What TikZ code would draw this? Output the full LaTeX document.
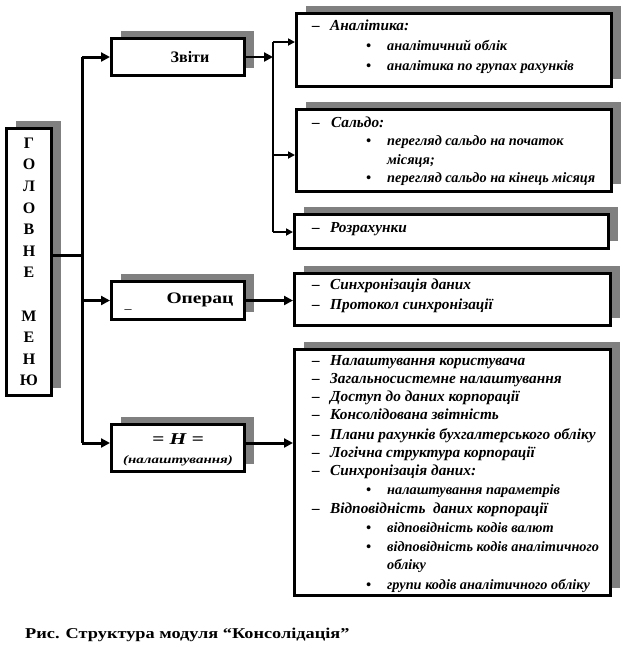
\documentclass[tikz,border=0pt]{standalone}
\usepackage{fontspec}
\setmainfont{Liberation Serif}
\newfontfamily\widefont[FakeStretch=1.22]{Liberation Serif}
\newfontfamily\widerfont[FakeStretch=1.3]{Liberation Serif}
\usetikzlibrary{shadows,arrows.meta}
\definecolor{shgray}{RGB}{128,128,128}
\begin{document}
\begin{tikzpicture}[x=1pt,y=-1pt,
  box/.style={draw=black, line width=3pt, fill=white, inner sep=0pt,
    drop shadow={shadow xshift=9pt, shadow yshift=8pt, fill=shgray, opacity=1}},
  lbl/.style={inner sep=0pt, font=\fontsize{16}{18}\selectfont\bfseries},
  itm/.style={anchor=west, inner sep=0pt, text height=0.7em, text depth=0.25em,
    font=\fontsize{15.3}{17}\selectfont\bfseries\itshape},
  bitm/.style={itm, font=\fontsize{14.3}{16}\selectfont\bfseries\itshape},
  mainarr/.style={line width=3pt, -{Triangle[length=9pt,width=9pt]}},
  thinarr/.style={line width=2pt, -{Triangle[length=7pt,width=7pt]}},
  trunk/.style={line width=3pt},
  subtrunk/.style={line width=2pt},
]
\useasboundingbox (0,0) rectangle (625,657);

% main menu
\node[box, minimum width=45pt, minimum height=267pt, align=center,
  font=\fontsize{16}{21.6}\selectfont\bfseries] (menu) at (29,262)
  {Г\\О\\Л\\О\\В\\Н\\Е\\ \\М\\Е\\Н\\Ю};

% second level
\node[box, minimum width=133pt, minimum height=37pt] (zviti) at (178,57) {};
\node[lbl] (zvitit) at (190,57) {Звіти};
\node[box, minimum width=133pt, minimum height=38pt] (operac) at (178,300.5) {};
\node[lbl, font=\fontsize{16}{18}\widefont\bfseries] (operact) at (200,300) {Операц};
\node[lbl, font=\fontsize{14}{16}\selectfont] (operacu) at (128,309) {\_};
\node[box, minimum width=133pt, minimum height=47pt] (nal) at (178,448) {};
\node[lbl, font=\fontsize{16.5}{18}\widerfont\bfseries\itshape] (nalt1) at (178,439) {= Н =};
\node[lbl, font=\fontsize{11.5}{13}\widerfont\bfseries\itshape] (nalt2) at (178,461) {(налаштування)};

% third level boxes
\node[box, minimum width=315pt, minimum height=73pt] (b1) at (454,50) {};
\node[box, minimum width=315pt, minimum height=82pt] (b2) at (454,150.5) {};
\node[box, minimum width=314pt, minimum height=34pt] (b3) at (451.5,231.5) {};
\node[box, minimum width=316pt, minimum height=52pt] (b4) at (452.5,299.5) {};
\node[box, minimum width=316pt, minimum height=246pt] (b5) at (452.5,472.5) {};

% connectors
\coordinate (tm) at (82,255);
\coordinate (t1) at (82,57);
\coordinate (t2) at (82,300.5);
\coordinate (t3) at (82,443);
\draw[trunk] (menu.east |- tm) -- (tm);
\draw[trunk] (t1) -- (t3);
\draw[mainarr] (t1) -- (zviti.west);
\draw[mainarr] (t2) -- (operac.west);
\draw[mainarr] (t3) -- (t3 -| nal.west);

\coordinate (s1) at (273,42);
\coordinate (s2) at (273,155);
\coordinate (s3) at (273,232);
\draw[subtrunk] (s1) -- (s3);
\draw[mainarr, line width=2.5pt] (zviti.east) -- (zviti.east -| s1);
\draw[thinarr] (s1) -- (s1 -| b1.west);
\draw[thinarr] (s2) -- (s2 -| b2.west);
\draw[thinarr] (s3) -- (s3 -| b3.west);
\draw[mainarr, line width=2.5pt] (operac.east) -- (operac.east -| b4.west);
\draw[mainarr] (t3 -| nal.east) -- (t3 -| b5.west);

% box 1
\node[itm] (a1d) at (312,28) {–};
\node[itm] (a1) at (330,28) {Аналітика:};
\node[bitm] (a2d) at (366,48) {•};
\node[bitm] (a2) at (387,48) {аналітичний облік};
\node[bitm] (a3d) at (366,68) {•};
\node[bitm] (a3) at (387,68) {аналітика по групах рахунків};
% box 2
\node[itm] (c1d) at (312,125) {–};
\node[itm] (c1) at (331,125) {Сальдо:};
\node[bitm] (c2d) at (366,143) {•};
\node[bitm] (c2) at (387,143) {перегляд сальдо на початок};
\node[bitm] (c2b) at (387,162) {місяця;};
\node[bitm] (c3d) at (366,180) {•};
\node[bitm] (c3) at (387,180) {перегляд сальдо на кінець місяця};
% box 3
\node[itm] (r1d) at (312,230) {–};
\node[itm] (r1) at (330,230) {Розрахунки};
% box 4
\node[itm] (p1d) at (312,287) {–};
\node[itm] (p1) at (330,287) {Синхронізація даних};
\node[itm] (p2d) at (312,307) {–};
\node[itm] (p2) at (330,307) {Протокол синхронізації};
% box 5
\node[itm] (n1d) at (312,363) {–};
\node[itm] (n1) at (330,363) {Налаштування користувача};
\node[itm] (n2d) at (312,381) {–};
\node[itm] (n2) at (330,381) {Загальносистемне налаштування};
\node[itm] (n3d) at (312,399) {–};
\node[itm] (n3) at (330,399) {Доступ до даних корпорації};
\node[itm] (n4d) at (312,417) {–};
\node[itm] (n4) at (330,417) {Консолідована звітність};
\node[itm] (n5d) at (312,437) {–};
\node[itm] (n5) at (330,437) {Плани рахунків бухгалтерського обліку};
\node[itm] (n6d) at (312,455) {–};
\node[itm] (n6) at (330,455) {Логічна структура корпорації};
\node[itm] (n7d) at (312,473) {–};
\node[itm] (n7) at (330,473) {Синхронізація даних:};
\node[bitm] (n8d) at (366,492) {•};
\node[bitm] (n8) at (387,492) {налаштування параметрів};
\node[itm] (n9d) at (312,511) {–};
\node[itm] (n9) at (330,511) {Відповідність\ \ даних корпорації};
\node[bitm] (n10d) at (366,530) {•};
\node[bitm] (n10) at (387,530) {відповідність кодів валют};
\node[bitm] (n11d) at (366,549) {•};
\node[bitm] (n11) at (387,549) {відповідність кодів аналітичного};
\node[bitm] (n11b) at (387,567) {обліку};
\node[bitm] (n12d) at (366,587) {•};
\node[bitm] (n12) at (387,587) {групи кодів аналітичного обліку};

% caption
\node[anchor=west, inner sep=0pt, font=\fontsize{15}{17}\widefont\bfseries] (cap) at (25,635)
  {Рис. Структура модуля “Консолідація”};
\end{tikzpicture}
\end{document}
